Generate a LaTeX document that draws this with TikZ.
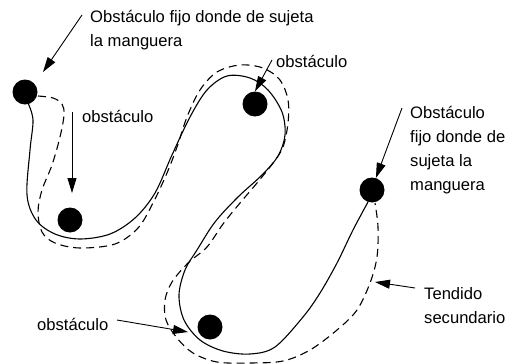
\documentclass[tikz,border=0pt]{standalone}
\usepackage{fontspec}
\setmainfont{Liberation Sans}
\usetikzlibrary{arrows.meta}
\tikzset{
  obst/.style={circle, fill=black, minimum size=25pt, inner sep=0pt},
  lbl/.style={anchor=north west, inner sep=0pt, align=left, font=\fontsize{16.6}{24}\selectfont},
  hose/.style={line width=1.1pt, line join=round},
  hosedash/.style={hose, dash pattern=on 8pt off 5pt},
  arr/.style={line width=0.9pt, -{Triangle[length=15pt,width=9pt]}},
}
\begin{document}
\begin{tikzpicture}[x=1pt, y=-1pt]
\useasboundingbox (0,0) rectangle (509,364);
% hose (solid)
\draw[hose] plot[smooth, tension=0.55] coordinates {
 (28,103) (33,120) (30,150) (27,195) (36,220) (55,234) (80,239) (110,234)
 (135,218) (155,193) (172,155) (190,117) (207,90) (227,76) (250,78) (268,90)
 (282,112) (285,135) (278,156) (262,175) (238,197) (215,222) (197,250)
 (185,270) (179,295) (184,320) (200,340) (223,351) (250,354) (275,347)
 (303,317) (320,293) (337,263) (353,230) (368,202)};
% secondary laying (dashed)
\draw[hosedash] plot[smooth, tension=0.55] coordinates {
 (38,96) (53,98) (62,104) (64,115) (60,137) (52,165) (42,190) (38,212)
 (42,232) (55,243) (80,248) (115,244) (138,228) (153,203) (167,173)
 (177,147) (187,117) (200,90) (217,72) (240,65) (263,68) (280,80) (288,100)
 (288,123) (283,147) (273,163) (257,183) (240,203) (223,224) (207,247)
 (188,263) (172,282) (165,300) (166,320) (177,338) (193,353) (217,362)
 (250,363) (283,361) (310,350) (337,330) (357,310) (370,283) (377,257)
 (378,227) (375,203)};
% obstacles
\node[obst] (c1) at (25,92) {};
\node[obst] (c2) at (70,220) {};
\node[obst] (c3) at (255,104) {};
\node[obst] (c4) at (372,190) {};
\node[obst] (c5) at (210,327) {};
% labels
\node[lbl] (l1) at (90,10) {Obstáculo fijo donde de sujeta\\la manguera};
\node[lbl] (l2) at (82,110) {obstáculo};
\node[lbl] (l3) at (276,55) {obstáculo};
\node[lbl] (l4) at (410,106) {Obstáculo\\fijo donde de\\sujeta la\\manguera};
\node[lbl] (l5) at (37,318) {obstáculo};
\node[lbl] (l6) at (424,287) {Tendido\\secundario};
% arrow ends
\coordinate (a1s) at (82,15);  \coordinate (a1e) at (43,72);
\coordinate (a2s) at (72,112); \coordinate (a2e) at (72,193);
\coordinate (a3s) at (272,60);
\coordinate (a4s) at (402,108);
\coordinate (a5s) at (117,320); \coordinate (a5e) at (188,332);
\coordinate (a6s) at (415,288); \coordinate (a6e) at (375,282);
\draw[arr] (a1s) -- (a1e);
\draw[arr] (a2s) -- (a2e);
\draw[arr] (a3s) -- (c3.north);
\draw[arr] (a4s) -- (c4.72);
\draw[arr] (a5s) -- (a5e);
\draw[arr] (a6s) -- (a6e);
\end{tikzpicture}
\end{document}
